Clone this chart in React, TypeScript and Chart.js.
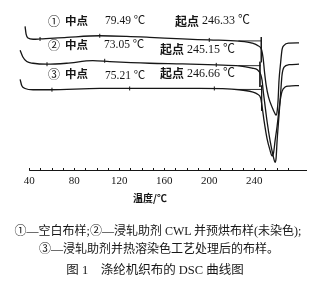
import React, { useEffect, useRef } from "react";
import { Chart, registerables } from "chart.js";

Chart.register(...registerables);

// Temperature (°C) and heat flow (arbitrary units) for the three DSC curves
const temps1 = [36.3, 37.2, 38.9, 43.4, 49.6, 73.5, 102.7, 126.6, 147.0, 176.2, 200.1, 226.7, 238.2, 243.5, 246.6, 248.0, 249.3, 250.6, 252.8, 255.9, 258.6, 259.5, 260.6, 261.3, 262.1, 263.5, 264.8, 266.6, 271.0, 279.9];
const flow1 = [148, 140, 136, 134.7, 135, 136.7, 138.3, 137.7, 136.7, 135, 134, 132.7, 130.7, 128, 124, 115, 100, 88, 75, 65, 58, 56.5, 62, 72, 92, 110, 124, 128.5, 130.7, 131];

const temps2 = [31.9, 34.2, 37.8, 43.4, 55.5, 73.2, 96.5, 111.6, 147.0, 176.2, 206.3, 226.7, 238.2, 242.9, 245.9, 247.1, 248.0, 249.3, 251.5, 254.2, 256.8, 258.6, 259.5, 260.4, 261.7, 263.0, 263.9, 264.8, 266.6, 271.0, 279.9];
const flow2 = [123.3, 116.7, 111.7, 110, 109, 110, 112.7, 111.7, 110, 109.3, 108.3, 107.3, 105, 103.3, 98.3, 92, 82, 70, 50, 30, 15, 8, 12, 30, 50, 70, 85, 98, 106, 108.5, 109];

const temps3 = [31.9, 33.4, 36.3, 43.4, 58.4, 102.7, 147.0, 191.3, 226.7, 238.2, 243.1, 245.8, 247.1, 248.9, 251.5, 254.2, 255.9, 257.3, 258.6, 260.4, 262.1, 263.5, 264.8, 267.5, 271.0, 279.9];
const flow3 = [93.3, 86.7, 84, 82.7, 82.7, 84, 84, 84, 82.7, 80.5, 78, 74, 65, 50, 32, 20, 14.5, 18, 30, 45, 62, 74, 81, 85.5, 86.5, 87];

// Small step markers along the baselines
const markerTemps1 = [49.6, 102.7, 200.1];
const markerFlow1 = [135, 138.3, 134];
const markerTemps2 = [55.8, 107.1, 206.3];
const markerFlow2 = [109, 112.5, 108.3];
const markerTemps3 = [60.2, 129.3, 204.6];
const markerFlow3 = [82.7, 84, 84];

// Onset construction (onset temperature and baseline level)
const onsetTemps = [246.33, 245.15, 246.66];
const baselineFlows = [133, 107.5, 83];
const baselineStart = 226;

// Annotation texts
const circledNums = ["①", "②", "③"];
const midpointTemps = ["79.49", "73.05", "75.21"];
const onsetLabels = ["246.33", "245.15", "246.66"];

// Axis
const xMin = 30;
const xAxisStart = 40;
const xMax = 287;
const xStep = 10;
const xLabelStep = 40;
const xLabelMax = 240;
const xTitle = "温度/℃";

const captionLine1 = "①—空白布样;②—浸轧助剂 CWL 并预烘布样(未染色);";
const captionLine2 = "③—浸轧助剂并热溶染色工艺处理后的布样。";
const captionTitle = "图 1　涤纶机织布的 DSC 曲线图";

const zip = (xs: number[], ys: number[]) => xs.map((x, i) => ({ x, y: ys[i] }));

const INK = "#161616";
const SERIF = "'Liberation Serif', 'Noto Sans CJK SC'";
const CJK = "'Noto Sans CJK SC', 'DejaVu Sans'";

const annotationPlugin = {
  id: "dscAnnotations",
  afterDraw(chart: any) {
    const ctx = chart.ctx as CanvasRenderingContext2D;
    const xs = chart.scales.x;
    ctx.save();
    ctx.strokeStyle = INK;
    ctx.lineWidth = 1;
    // axis line from the first labelled temperature
    const axisY = Math.round(xs.top) + 0.5;
    ctx.beginPath();
    ctx.moveTo(xs.getPixelForValue(xAxisStart), axisY);
    ctx.lineTo(xs.right, axisY);
    ctx.stroke();
    // small upward ticks on axis
    for (const t of xs.ticks) {
      if (t.value % xStep !== 0 || t.value < xAxisStart) continue;
      const px = Math.round(xs.getPixelForValue(t.value)) + 0.5;
      ctx.beginPath();
      ctx.moveTo(px, axisY);
      ctx.lineTo(px, axisY - 2.5);
      ctx.stroke();
    }
    ctx.fillStyle = INK;
    ctx.textBaseline = "middle";
    const rows = [
      { y: 21, midX: 105, onX: 175, onY: 21 },
      { y: 45, midX: 104, onX: 160, onY: 49.5 },
      { y: 74, midX: 105, onX: 160, onY: 73.5 },
    ];
    rows.forEach((r, i) => {
      let x = 48;
      ctx.font = `12px ${CJK}`;
      ctx.fillText(circledNums[i], x, r.y);
      x += ctx.measureText(circledNums[i]).width + 5;
      ctx.font = `bold 11.5px ${CJK}`;
      ctx.fillText("中点", x, r.y);
      ctx.font = `11.5px ${SERIF}`;
      ctx.fillText(midpointTemps[i] + " ℃", r.midX, r.y + (i === 2 ? 1.5 : 0));
      ctx.font = `bold 12px ${CJK}`;
      ctx.fillText("起点", r.onX, r.onY);
      const w = ctx.measureText("起点").width;
      ctx.font = `12px ${SERIF}`;
      ctx.fillText(" " + onsetLabels[i] + " ℃", r.onX + w, r.onY);
    });
    ctx.restore();
  },
};

export default function App() {
  const ref = useRef<HTMLCanvasElement | null>(null);

  useEffect(() => {
    if (!ref.current) return;
    const curveStyle = {
      borderColor: INK,
      borderWidth: 1.3,
      pointRadius: 0,
      fill: false,
      cubicInterpolationMode: "monotone" as const,
      clip: false as any,
    };
    const markerStyle = {
      showLine: false,
      pointStyle: "line" as const,
      rotation: 90,
      pointRadius: 2,
      borderColor: INK,
      borderWidth: 1,
      clip: false as any,
    };
    const constructionSets: any[] = [];
    onsetTemps.forEach((t, i) => {
      const b = baselineFlows[i];
      constructionSets.push({
        data: [
          { x: baselineStart, y: b },
          { x: t + 0.6, y: b },
        ],
        borderColor: INK,
        borderWidth: 0.9,
        pointRadius: 0,
        tension: 0,
        clip: false,
      });
      constructionSets.push({
        data: [
          { x: t, y: b + 4 },
          { x: t, y: b - 22 },
        ],
        borderColor: INK,
        borderWidth: 0.9,
        pointRadius: 0,
        tension: 0,
        clip: false,
      });
    });

    const chart = new Chart(ref.current, {
      type: "line",
      data: {
        datasets: [
          { ...curveStyle, data: zip(temps1, flow1) },
          { ...curveStyle, data: zip(temps2, flow2) },
          { ...curveStyle, data: zip(temps3, flow3) },
          { ...markerStyle, data: zip(markerTemps1, markerFlow1) },
          { ...markerStyle, data: zip(markerTemps2, markerFlow2) },
          { ...markerStyle, data: zip(markerTemps3, markerFlow3) },
          ...constructionSets,
        ] as any,
      },
      options: {
        animation: false,
        responsive: false,
        maintainAspectRatio: false,
        layout: { padding: { left: 18, right: 4, top: 0, bottom: 0 } },
        plugins: { legend: { display: false }, tooltip: { enabled: false }, title: { display: false } },
        scales: {
          x: {
            type: "linear",
            position: "bottom",
            min: xMin,
            max: xMax,
            grid: { display: false, drawTicks: false },
            border: { display: false },
            ticks: {
              stepSize: xStep,
              autoSkip: false,
              maxRotation: 0,
              padding: 5,
              color: INK,
              font: { family: SERIF, size: 11 },
              callback: (v: any) => (v % xLabelStep === 0 && v >= xAxisStart && v <= xLabelMax ? String(v) : ""),
            },
            afterFit: (s: any) => {
              s.height = 40;
            },
          },
          y: { display: false, min: 0, max: 170 },
        },
      },
      plugins: [annotationPlugin],
    });
    return () => chart.destroy();
  }, []);

  const textBase: React.CSSProperties = {
    position: "absolute",
    left: 0,
    width: 312,
    textAlign: "center",
    color: INK,
    whiteSpace: "nowrap",
    lineHeight: "14px",
    fontFamily: SERIF,
  };

  return (
    <div style={{ position: "fixed", left: 0, top: 0, width: 312, height: 283, background: "#fff", overflow: "hidden" }}>
      <canvas ref={ref} width={312} height={210} style={{ position: "absolute", left: 0, top: 0, width: 312, height: 210 }} />
      <div style={{ ...textBase, left: 0, width: 300, top: 191, fontSize: 10, fontWeight: 700, fontFamily: CJK }}>{xTitle}</div>
      <div style={{ ...textBase, left: 2, top: 224, fontSize: 12 }}>{captionLine1}</div>
      <div style={{ ...textBase, left: 3, top: 242, fontSize: 12 }}>{captionLine2}</div>
      <div style={{ ...textBase, left: -1, top: 263, fontSize: 12.5 }}>{captionTitle}</div>
    </div>
  );
}
